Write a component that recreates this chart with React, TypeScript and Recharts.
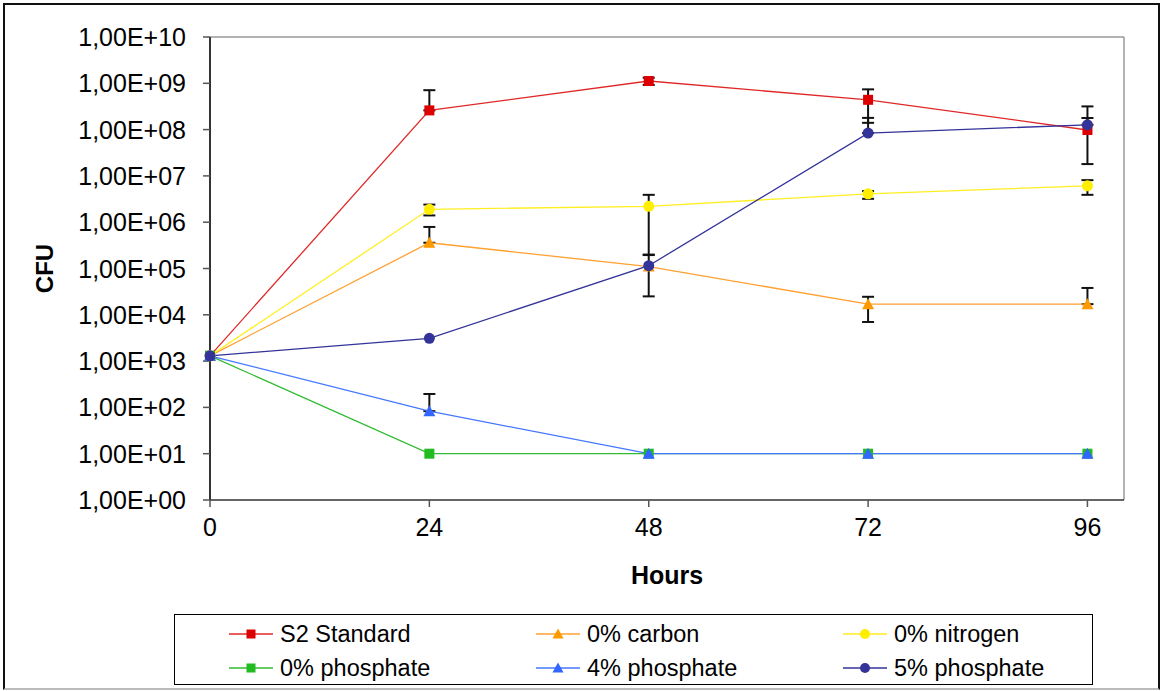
import React from 'react';
import { LineChart, Line, XAxis, YAxis, ErrorBar, ReferenceLine, Label } from 'recharts';

const hours = [0, 24, 48, 72, 96];
const yTicks = [1, 1e1, 1e2, 1e3, 1e4, 1e5, 1e6, 1e7, 1e8, 1e9, 1e10];
const xTicks = [0, 24, 48, 72, 96];

const s2Standard = [1.3e3, 2.6e8, 1.12e9, 4.4e8, 9.8e7];
const carbon0 = [1.3e3, 3.6e5, 1.1e5, 1.7e4, 1.7e4];
const nitrogen0 = [1.3e3, 1.9e6, 2.2e6, 4.1e6, 6.1e6];
const phosphate0 = [1.3e3, 10, 10, 10, 10];
const phosphate4 = [1.3e3, 83, 10, 10, 10];
const phosphate5 = [1.3e3, 3.1e3, 1.15e5, 8.4e7, 1.27e8];

// error bars as [minus, plus]
const s2Err = [null, [0, 4.5e8], [2e8, 2e8], [3e8, 3e8], [8e7, 8e7]];
const carbonErr = [null, [0, 4.3e5], [8.5e4, 8.5e4], [1.0e4, 7.5e3], [0, 2.1e4]];
const nitrogenErr = [null, [5e5, 5e5], [2.0e6, 1.7e6], [9e5, 6e5], [2.2e6, 2.0e6]];
const phosphate0Err = [null, null, null, null, null];
const phosphate4Err = [null, [0, 112], null, null, null];
const phosphate5Err = [null, null, null, [0, 9.5e7], [0, 1.9e8]];

const FONT = '"Liberation Sans", Arial, Helvetica, sans-serif';

type Shape = 'square' | 'triangle' | 'circle';

const series: { key: string; name: string; values: number[]; err: any[]; line: string; fill: string; shape: Shape }[] = [
  { key: 's2', name: 'S2 Standard', values: s2Standard, err: s2Err, line: '#E02828', fill: '#DD0000', shape: 'square' },
  { key: 'c0', name: '0% carbon', values: carbon0, err: carbonErr, line: '#FFA030', fill: '#FF9900', shape: 'triangle' },
  { key: 'n0', name: '0% nitrogen', values: nitrogen0, err: nitrogenErr, line: '#FFEE22', fill: '#FFEE00', shape: 'circle' },
  { key: 'p0', name: '0% phosphate', values: phosphate0, err: phosphate0Err, line: '#33BB33', fill: '#22BB22', shape: 'square' },
  { key: 'p4', name: '4% phosphate', values: phosphate4, err: phosphate4Err, line: '#4477FF', fill: '#3366FF', shape: 'triangle' },
  { key: 'p5', name: '5% phosphate', values: phosphate5, err: phosphate5Err, line: '#333399', fill: '#333399', shape: 'circle' },
];

const data = hours.map((h, i) => {
  const row: any = { h };
  series.forEach((s) => {
    row[s.key] = s.values[i];
    if (s.err[i]) row[s.key + 'Err'] = s.err[i];
  });
  return row;
});

function Marker({ shape, fill, cx, cy, size = 10 }: { shape: Shape; fill: string; cx: number; cy: number; size?: number }) {
  const h = size / 2;
  if (shape === 'square') return <rect x={cx - h} y={cy - h} width={size} height={size} fill={fill} />;
  if (shape === 'triangle')
    return <polygon points={`${cx},${cy - h - 1} ${cx - h - 1},${cy + h} ${cx + h + 1},${cy + h}`} fill={fill} />;
  return <circle cx={cx} cy={cy} r={h + 0.5} fill={fill} />;
}

const makeDot = (shape: Shape, fill: string) => (props: any) => {
  const { cx, cy, index } = props;
  if (cx == null || cy == null) return <g key={index} />;
  return (
    <g key={index}>
      <Marker shape={shape} fill={fill} cx={cx} cy={cy} />
    </g>
  );
};

const fmt = (v: number) => {
  const e = Math.round(Math.log10(v));
  return `1,00E+${String(e).padStart(2, '0')}`;
};

const YTick = (props: any) => {
  const { x, y, payload } = props;
  return (
    <text x={x} y={y} dy={9} textAnchor="end" fontFamily={FONT} fontSize={25} fill="#000">
      {fmt(payload.value)}
    </text>
  );
};

const XTick = (props: any) => {
  const { x, y, payload } = props;
  return (
    <text x={x} y={y} dy={19} textAnchor="middle" fontFamily={FONT} fontSize={25} fill="#000">
      {payload.value}
    </text>
  );
};

function LegendBox() {
  return (
    <div
      style={{
        position: 'absolute',
        left: 174,
        top: 614,
        width: 917,
        height: 69,
        border: '1.5px solid #000',
        background: '#fff',
        fontFamily: FONT,
        fontSize: 23.5,
      }}
    >
      {series.map((s, i) => {
        const col = i % 3;
        const row = Math.floor(i / 3);
        return (
          <div
            key={s.key}
            style={{
              position: 'absolute',
              left: 54 + col * 307,
              top: 3 + row * 34,
              height: 32,
              display: 'flex',
              alignItems: 'center',
              whiteSpace: 'nowrap',
            }}
          >
            <svg width={44} height={20} style={{ display: 'block' }}>
              <line x1={0} y1={10} x2={44} y2={10} stroke={s.line} strokeWidth={1.3} />
              <Marker shape={s.shape} fill={s.fill} cx={22} cy={10} size={9} />
            </svg>
            <span style={{ marginLeft: 7 }}>{s.name}</span>
          </div>
        );
      })}
    </div>
  );
}

export default function App() {
  return (
    <div style={{ position: 'absolute', left: 0, top: 0, width: 1161, height: 691, background: '#fff', fontFamily: FONT }}>
      <div
        style={{
          position: 'absolute',
          left: 3,
          top: 3,
          width: 1153,
          height: 683,
          borderTop: '2px solid #111',
          borderLeft: '2px solid #111',
          borderRight: '2px solid #111',
          borderBottom: '2px solid #bbb',
        }}
      />
      <div style={{ position: 'absolute', left: 0, top: 0 }}>
        <LineChart width={1161} height={691} data={data} margin={{ top: 37, right: 37, bottom: 0, left: 0 }}>
          <XAxis
            dataKey="h"
            type="number"
            domain={[0, 100]}
            ticks={xTicks}
            tick={<XTick />}
            tickSize={7}
            tickMargin={10}
            tickLine={{ stroke: '#555', strokeWidth: 1.5 }}
            height={191}
            axisLine={{ stroke: '#333', strokeWidth: 1.5 }}
          >
            <Label
              value="Hours"
              position="insideTop"
              offset={0}
              dy={66}
              style={{ fontFamily: FONT, fontSize: 25, fontWeight: 'bold', fill: '#000' }}
            />
          </XAxis>
          <YAxis
            type="number"
            scale="log"
            domain={[1, 1e10]}
            ticks={yTicks}
            allowDataOverflow
            width={210}
            tick={<YTick />}
            tickSize={7}
            tickMargin={17}
            tickLine={{ stroke: '#555', strokeWidth: 1.5 }}
            axisLine={{ stroke: '#333', strokeWidth: 2 }}
            interval={0}
          >
            <Label
              value="CFU"
              angle={-90}
              position="insideLeft"
              offset={0}
              dx={44}
              style={{ fontFamily: FONT, fontSize: 24, fontWeight: 'bold', fill: '#000', textAnchor: 'middle' }}
            />
          </YAxis>
          <ReferenceLine y={1e10} stroke="#999" strokeWidth={1.5} ifOverflow="visible" />
          <ReferenceLine x={100} stroke="#999" strokeWidth={1.5} ifOverflow="visible" />
          {series.map((s) => (
            <Line
              key={s.key}
              dataKey={s.key}
              name={s.name}
              type="linear"
              stroke={s.line}
              strokeWidth={1.3}
              dot={makeDot(s.shape, s.fill)}
              activeDot={false}
              isAnimationActive={false}
            >
              <ErrorBar dataKey={s.key + 'Err'} direction="y" width={6} stroke="#111" strokeWidth={2} isAnimationActive={false} />
            </Line>
          ))}
        </LineChart>
      </div>
      <LegendBox />
    </div>
  );
}
